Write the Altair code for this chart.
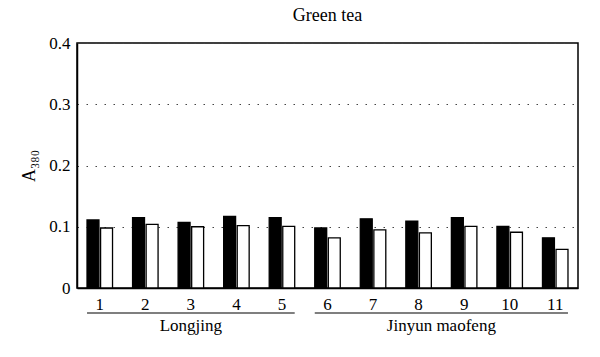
import altair as alt
import pandas as pd

categories = [str(i) for i in range(1, 12)]
series_names = ["Series 1", "Series 2"]
series_1 = [0.111, 0.115, 0.107, 0.117, 0.115, 0.098, 0.113, 0.109, 0.115, 0.1005, 0.082]
series_2 = [0.098, 0.104, 0.100, 0.102, 0.1005, 0.082, 0.095, 0.090, 0.1005, 0.091, 0.063]
y_ticks = [0, 0.1, 0.2, 0.3, 0.4]
group_labels = ["Longjing", "Jinyun maofeng"]
group_first = ["1", "6"]
group_last = ["5", "11"]

rows = []
for c, a, b in zip(categories, series_1, series_2):
    rows.append({"cat": c, "series": series_names[0], "value": a})
    rows.append({"cat": c, "series": series_names[1], "value": b})
df = pd.DataFrame(rows)
groups_df = pd.DataFrame({"label": group_labels, "first": group_first, "last": group_last})

FONT = "Liberation Serif"
W, H = 501, 245

xscale = alt.Scale(domain=categories, paddingInner=0.44, paddingOuter=0.22)

bars = alt.Chart(df).mark_bar(stroke="black", strokeWidth=1.3).encode(
    x=alt.X("cat:N", scale=xscale, sort=categories, title=None,
            axis=alt.Axis(labelAngle=0, ticks=False, tickSize=0, labelPadding=8,
                          labelFontSize=17, labelFont=FONT, labelColor="black",
                          domainColor="black", domainWidth=1.5, grid=False)),
    xOffset=alt.XOffset("series:N", scale=alt.Scale(domain=series_names, paddingInner=0.12)),
    y=alt.Y("value:Q", scale=alt.Scale(domain=[0, 0.4]),
            axis=alt.Axis(values=y_ticks, title="A₃₈₀",
                          labelExpr="datum.value == 0 ? '0' : format(datum.value, '.1f')",
                          ticks=False, tickSize=0, labelPadding=7,
                          labelFontSize=17, labelFont=FONT, labelColor="black",
                          titleFont=FONT, titleFontSize=18, titleFontWeight="normal",
                          titleColor="black", titlePadding=10,
                          domainColor="black", domainWidth=1.5,
                          grid=True, gridDash=[1.5, 7.5], gridColor="#444", gridWidth=1.2)),
    fill=alt.Fill("series:N", scale=alt.Scale(domain=series_names, range=["black", "white"]), legend=None),
)

rules = alt.Chart(groups_df).mark_rule(color="black", strokeWidth=1.2).encode(
    x=alt.X("first:N", scale=xscale, bandPosition=0, title=None),
    x2=alt.X2("last:N", bandPosition=1),
    y=alt.value(H + 25),
)

label1 = alt.Chart(groups_df.iloc[[0]]).mark_text(
    font=FONT, fontSize=17, color="black", baseline="middle", align="center"
).encode(
    x=alt.X("mid:N", scale=xscale, bandPosition=0.5, title=None),
    y=alt.value(H + 38),
    text="label:N",
).transform_calculate(mid="'3'")

label2 = alt.Chart(groups_df.iloc[[1]]).mark_text(
    font=FONT, fontSize=17, color="black", baseline="middle", align="center", dx=10
).encode(
    x=alt.X("mid:N", scale=xscale, bandPosition=1, title=None),
    y=alt.value(H + 38),
    text="label:N",
).transform_calculate(mid="'8'")

chart = alt.layer(bars, rules, label1, label2).properties(
    width=W, height=H,
    padding={"left": 77, "top": 43, "right": 22, "bottom": 69},
    autosize=alt.AutoSizeParams(type="none"),
    background="white",
    title=alt.TitleParams("Green tea", font=FONT, fontSize=18, fontWeight="normal",
                          offset=9, anchor="middle", color="black"),
).configure_view(stroke="black", strokeWidth=1.5)

chart.save("out.html", embed_options={"renderer": "svg", "actions": False})
